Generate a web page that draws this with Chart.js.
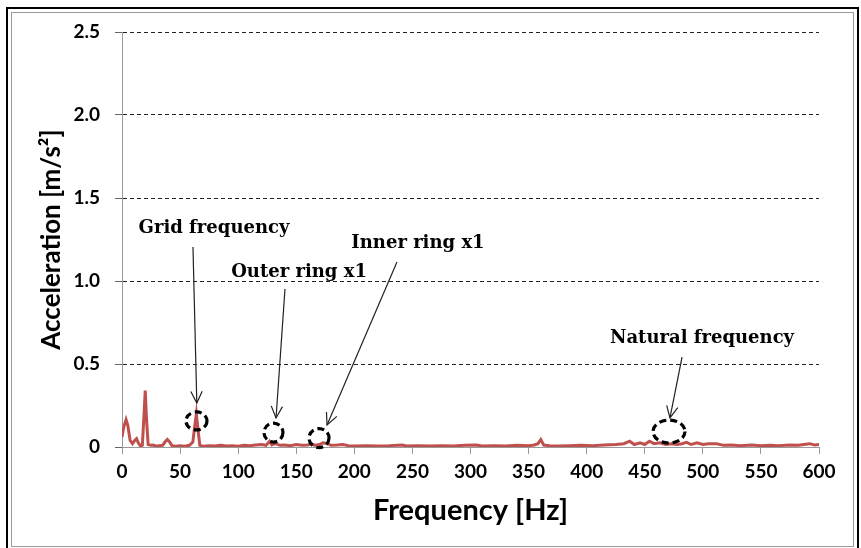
<!DOCTYPE html>
<html>
<head>
<meta charset="utf-8">
<script src="https://cdn.jsdelivr.net/npm/chart.js@4/dist/chart.umd.min.js"></script>
<style>
  html,body{margin:0;padding:0;background:#fff;overflow:hidden;}
  #wrap{position:relative;width:861px;height:548px;}
  #outer{position:absolute;left:6px;top:7px;width:849px;height:560px;border:2px solid #000;pointer-events:none;}
  #inner{position:absolute;left:11px;top:12px;width:841px;height:533px;border:1px solid #9a9a9a;pointer-events:none;}
  canvas{position:absolute;left:0;top:0;}
</style>
</head>
<body>
<div id="wrap">
  <canvas id="c" width="861" height="548"></canvas>
  <div id="outer"></div>
  <div id="inner"></div>
</div>
<script>
// Frequency [Hz]
const frequency = [0,1.5,3.5,5,7,9,11,12.5,14,16,17.5,19,20,21,22.5,25,27,29,32,35,37,39,41,43,46,50,54,58,61,62.5,64,65.5,67,70,75,80,85,90,95,100,105,110,115,120,124,127,129,132,136,140,145,150,155,160,163,166,170,173,177,180,185,190,195,200,210,220,230,241,245,255,265,275,285,295,305,310,320,330,340,350,355,358,360.5,363,368,375,385,395,405,415,425,432,437,441,446,450,454,458,463,468,473,478,482,486,490,495,500,505,512,518,525,532,542,550,558,565,575,582,587,592,596,600];
// Acceleration [m/s²]
const acceleration = [0.06,0.12,0.165,0.13,0.04,0.02,0.04,0.05,0.025,0.005,0.01,0.2,0.34,0.18,0.015,0.01,0.012,0.005,0.008,0.01,0.03,0.045,0.03,0.008,0.005,0.008,0.005,0.01,0.03,0.12,0.2,0.1,0.01,0.005,0.008,0.006,0.01,0.006,0.008,0.005,0.01,0.008,0.012,0.015,0.01,0.035,0.012,0.02,0.01,0.012,0.008,0.015,0.01,0.012,0.02,0.01,0.015,0.025,0.02,0.01,0.012,0.015,0.008,0.006,0.008,0.006,0.008,0.012,0.006,0.008,0.006,0.008,0.006,0.01,0.012,0.006,0.008,0.006,0.01,0.008,0.012,0.02,0.045,0.012,0.008,0.006,0.008,0.01,0.008,0.012,0.015,0.02,0.035,0.015,0.025,0.015,0.035,0.02,0.025,0.015,0.02,0.015,0.02,0.028,0.015,0.025,0.015,0.02,0.02,0.01,0.012,0.008,0.012,0.008,0.01,0.008,0.012,0.01,0.015,0.02,0.012,0.015];
// Axis ticks
const xTicks = [0,50,100,150,200,250,300,350,400,450,500,550,600];
const yTicks = [0,0.5,1,1.5,2,2.5];
// Annotations (text, circle, arrow positions in data units)
const annLabels = ["Grid frequency","Outer ring x1","Inner ring x1","Natural frequency"];
const annTextAt = [[79.2,1.32],[152.4,1.054],[254.8,1.229],[499.3,0.657]];
const annArrowFrom = [[61.1,1.205],[140.3,0.952],[236.7,1.114],[482.1,0.542]];
const annArrowTo = [[64.4,0.265],[132.6,0.175],[176.5,0.133],[471.7,0.175]];
const annCircleAt = [[64.1,0.157],[130.4,0.087],[169.6,0.054],[470.9,0.093]];
const annCircleR = [[10.5,9],[9.5,9.5],[10,9.5],[16,11.5]];

const points = frequency.map((f,i)=>({x:f,y:acceleration[i]}));

const annotPlugin = {
  id:'annot',
  afterDatasetsDraw(chart){
    const {ctx, scales:{x,y}} = chart;
    ctx.save();
    annCircleAt.forEach((c,i)=>{
      const cx=x.getPixelForValue(c[0]), cy=y.getPixelForValue(c[1]);
      ctx.beginPath();
      ctx.setLineDash([7,4]);
      ctx.lineWidth=3.2;
      ctx.strokeStyle='#000';
      ctx.ellipse(cx,cy,annCircleR[i][0],annCircleR[i][1],0,0,Math.PI*2);
      ctx.stroke();
    });
    ctx.setLineDash([]);
    annArrowFrom.forEach((a,i)=>{
      const x1=x.getPixelForValue(a[0]), y1=y.getPixelForValue(a[1]);
      const x2=x.getPixelForValue(annArrowTo[i][0]), y2=y.getPixelForValue(annArrowTo[i][1]);
      ctx.beginPath();
      ctx.lineWidth=1.2;
      ctx.strokeStyle='#222';
      ctx.moveTo(x1,y1); ctx.lineTo(x2,y2); ctx.stroke();
      const ang=Math.atan2(y2-y1,x2-x1), L=13, w=0.45;
      ctx.beginPath();
      ctx.moveTo(x2-L*Math.cos(ang-w), y2-L*Math.sin(ang-w));
      ctx.lineTo(x2,y2);
      ctx.lineTo(x2-L*Math.cos(ang+w), y2-L*Math.sin(ang+w));
      ctx.stroke();
    });
    ctx.fillStyle='#000';
    ctx.font='bold 18px "DejaVu Serif"';
    ctx.textAlign='center';
    ctx.textBaseline='middle';
    annLabels.forEach((t,i)=>{
      ctx.fillText(t, x.getPixelForValue(annTextAt[i][0]), y.getPixelForValue(annTextAt[i][1]));
    });
    ctx.restore();
  }
};

new Chart(document.getElementById('c'),{
  type:'line',
  data:{datasets:[{data:points,borderColor:'#C0504D',borderWidth:3,pointRadius:0,tension:0,fill:false}]},
  options:{
    responsive:false,animation:false,
    layout:{padding:{left:0,top:32,right:42,bottom:0}},
    plugins:{legend:{display:false},tooltip:{enabled:false}},
    scales:{
      x:{type:'linear',min:0,max:600,
        afterBuildTicks:s=>{s.ticks=xTicks.map(v=>({value:v}));},
        afterFit:s=>{s.height=101;},
        ticks:{color:'#000',font:{family:'Lato',weight:'bold',size:19},padding:6,maxRotation:0,autoSkip:false},
        grid:{drawOnChartArea:false,drawTicks:true,tickLength:7,tickColor:'#999',color:'#999'},
        border:{color:'#999',width:1},
        title:{display:true,text:'Frequency [Hz]',color:'#000',font:{family:'Lato',weight:'bold',size:29},padding:{top:0,bottom:20}}
      },
      y:{min:0,max:2.5,
        afterBuildTicks:s=>{s.ticks=yTicks.map(v=>({value:v}));},
        afterFit:s=>{s.width=122;},
        ticks:{color:'#000',font:{family:'Lato',weight:'bold',size:19},padding:15},
        grid:{color:'#222',tickLength:7,tickColor:'#666',tickBorderDash:[]},
        border:{color:'#999',width:1,dash:[4,3]},
        title:{display:true,text:'Acceleration [m/s²]',color:'#000',font:{family:'Lato',weight:'bold',size:26},padding:{top:36,bottom:0}}
      }
    }
  },
  plugins:[annotPlugin]
});
</script>
</body>
</html>
